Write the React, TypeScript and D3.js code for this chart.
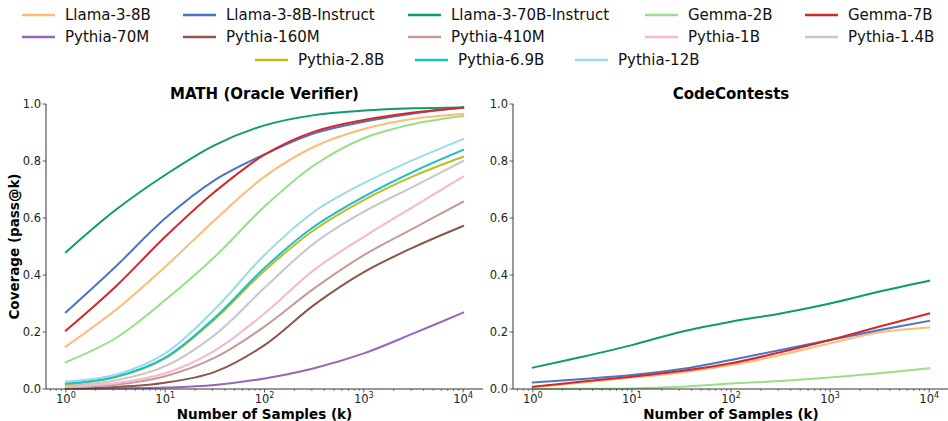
import React, { useEffect, useRef } from "react";
import * as d3 from "d3";

const sampleK = [1, 3.16, 10, 31.6, 100, 316, 1000, 3162, 10000];

const modelNames = [
  "Llama-3-8B",
  "Llama-3-8B-Instruct",
  "Llama-3-70B-Instruct",
  "Gemma-2B",
  "Gemma-7B",
  "Pythia-70M",
  "Pythia-160M",
  "Pythia-410M",
  "Pythia-1B",
  "Pythia-1.4B",
  "Pythia-2.8B",
  "Pythia-6.9B",
  "Pythia-12B",
];

const modelColors = [
  "#ffbb78",
  "#4a74c9",
  "#0f9b6e",
  "#98df8a",
  "#d62728",
  "#9467bd",
  "#8c564b",
  "#c49c94",
  "#f7b6d2",
  "#c7c7c7",
  "#bcbd22",
  "#17becf",
  "#9edae5",
];

// MATH (Oracle Verifier) coverage
const mathLlama8B = [0.149, 0.277, 0.429, 0.593, 0.745, 0.85, 0.912, 0.948, 0.965];
const mathLlama8BInstruct = [0.269, 0.429, 0.599, 0.733, 0.823, 0.897, 0.938, 0.967, 0.988];
const mathLlama70BInstruct = [0.48, 0.628, 0.751, 0.856, 0.925, 0.961, 0.977, 0.985, 0.988];
const mathGemma2B = [0.094, 0.178, 0.312, 0.464, 0.64, 0.785, 0.88, 0.93, 0.958];
const mathGemma7B = [0.205, 0.359, 0.534, 0.692, 0.822, 0.903, 0.944, 0.97, 0.988];
const mathPythia70M = [0.0, 0.002, 0.005, 0.014, 0.037, 0.073, 0.125, 0.195, 0.268];
const mathPythia160M = [0.002, 0.007, 0.022, 0.06, 0.154, 0.295, 0.41, 0.497, 0.572];
const mathPythia410M = [0.006, 0.015, 0.045, 0.11, 0.219, 0.353, 0.47, 0.564, 0.657];
const mathPythia1B = [0.008, 0.02, 0.055, 0.135, 0.265, 0.418, 0.534, 0.64, 0.745];
const mathPythia1_4B = [0.012, 0.03, 0.08, 0.19, 0.355, 0.511, 0.622, 0.71, 0.8];
const mathPythia2_8B = [0.017, 0.041, 0.107, 0.245, 0.415, 0.558, 0.663, 0.747, 0.815];
const mathPythia6_9B = [0.019, 0.043, 0.11, 0.25, 0.425, 0.57, 0.675, 0.763, 0.839];
const mathPythia12B = [0.026, 0.05, 0.125, 0.28, 0.47, 0.622, 0.722, 0.804, 0.877];

// CodeContests coverage (only five models)
const codeLlama8B = [0.006, 0.023, 0.04, 0.058, 0.084, 0.119, 0.16, 0.199, 0.216];
const codeLlama8BInstruct = [0.023, 0.035, 0.049, 0.07, 0.102, 0.137, 0.172, 0.207, 0.239];
const codeLlama70BInstruct = [0.075, 0.113, 0.154, 0.201, 0.236, 0.265, 0.3, 0.342, 0.38];
const codeGemma2B = [0.0, 0.001, 0.002, 0.008, 0.019, 0.028, 0.04, 0.055, 0.073];
const codeGemma7B = [0.008, 0.026, 0.043, 0.063, 0.09, 0.129, 0.172, 0.219, 0.265];

const yTicks = [0, 0.2, 0.4, 0.6, 0.8, 1.0];
const xTicks = [1, 10, 100, 1000, 10000];

const mathSeries = [
  mathLlama8B,
  mathLlama8BInstruct,
  mathLlama70BInstruct,
  mathGemma2B,
  mathGemma7B,
  mathPythia70M,
  mathPythia160M,
  mathPythia410M,
  mathPythia1B,
  mathPythia1_4B,
  mathPythia2_8B,
  mathPythia6_9B,
  mathPythia12B,
];
const codeSeries = [codeLlama8B, codeLlama8BInstruct, codeLlama70BInstruct, codeGemma2B, codeGemma7B];

const W = 948;
const H = 421;
const FONT = "DejaVu Sans, sans-serif";

function drawPanel(svg, x0, x1, title, series, showYLabel) {
  const top = 104;
  const bottom = 389;
  const x = d3.scaleLog().domain([Math.pow(10, -0.2), Math.pow(10, 4.2)]).range([x0, x1]);
  const y = d3.scaleLinear().domain([0, 1]).range([bottom, top]);

  const g = svg.append("g");

  // curves
  const line = d3
    .line()
    .x((d) => x(d[0]))
    .y((d) => y(d[1]))
    .curve(d3.curveCatmullRom.alpha(0.5));

  series.forEach((vals, i) => {
    g.append("path")
      .datum(sampleK.map((k, j) => [k, vals[j]]))
      .attr("d", line)
      .attr("fill", "none")
      .attr("stroke", modelColors[i])
      .attr("stroke-width", 2)
      .attr("stroke-linecap", "square");
  });

  // spines
  g.append("line")
    .attr("x1", x0).attr("x2", x0).attr("y1", top).attr("y2", bottom)
    .attr("stroke", "#333").attr("stroke-width", 1);
  g.append("line")
    .attr("x1", x0).attr("x2", x1).attr("y1", bottom).attr("y2", bottom)
    .attr("stroke", "#333").attr("stroke-width", 1);

  // y ticks
  yTicks.forEach((t) => {
    g.append("line")
      .attr("x1", x0 - 3.5).attr("x2", x0).attr("y1", y(t)).attr("y2", y(t))
      .attr("stroke", "#333").attr("stroke-width", 0.8);
    g.append("text")
      .attr("x", x0 - 5).attr("y", y(t)).attr("dy", "0.35em")
      .attr("text-anchor", "end")
      .attr("font-family", FONT).attr("font-size", 11.5).attr("fill", "#222")
      .text(t.toFixed(1));
  });

  // x ticks, major and minor
  for (let e = -1; e <= 4; e++) {
    for (let m = 1; m <= 9; m++) {
      const v = m * Math.pow(10, e);
      const px = x(v);
      if (px < x0 || px > x1) continue;
      const major = m === 1;
      g.append("line")
        .attr("x1", px).attr("x2", px).attr("y1", bottom).attr("y2", bottom + (major ? 3.5 : 2))
        .attr("stroke", "#333").attr("stroke-width", major ? 0.8 : 0.6);
    }
  }
  xTicks.forEach((t) => {
    const txt = g.append("text")
      .attr("x", x(t)).attr("y", bottom + 14)
      .attr("text-anchor", "middle")
      .attr("font-family", FONT).attr("font-size", 11.5).attr("fill", "#222");
    txt.append("tspan").text("10");
    txt.append("tspan").attr("font-size", 8).attr("dy", -5.5).text(String(Math.round(Math.log10(t))));
  });

  // title and axis labels
  g.append("text")
    .attr("x", (x0 + x1) / 2).attr("y", 99)
    .attr("text-anchor", "middle")
    .attr("font-family", FONT).attr("font-weight", "bold").attr("font-size", 15)
    .text(title);
  g.append("text")
    .attr("x", (x0 + x1) / 2).attr("y", 419)
    .attr("text-anchor", "middle")
    .attr("font-family", FONT).attr("font-weight", "bold").attr("font-size", 13.5)
    .text("Number of Samples (k)");
  if (showYLabel) {
    g.append("text")
      .attr("transform", `translate(19, ${(top + bottom) / 2}) rotate(-90)`)
      .attr("text-anchor", "middle")
      .attr("font-family", FONT).attr("font-weight", "bold").attr("font-size", 13.5)
      .text("Coverage (pass@k)");
  }
}

function drawLegend(svg) {
  const rows = [
    { y: 15, items: [0, 1, 2, 3, 4], xs: [22, 183, 408, 645, 805] },
    { y: 37, items: [5, 6, 7, 8, 9], xs: [22, 183, 408, 645, 805] },
    { y: 60, items: [10, 11, 12], xs: [255, 415, 575] },
  ];
  const g = svg.append("g");
  rows.forEach((row) => {
    row.items.forEach((idx, j) => {
      const lx = row.xs[j];
      g.append("line")
        .attr("x1", lx).attr("x2", lx + 33).attr("y1", row.y).attr("y2", row.y)
        .attr("stroke", modelColors[idx]).attr("stroke-width", 2.5);
      g.append("text")
        .attr("x", lx + 43).attr("y", row.y).attr("dy", "0.36em")
        .attr("font-family", FONT).attr("font-size", 15).attr("fill", "#111")
        .text(modelNames[idx]);
    });
  });
}

export default function App() {
  const ref = useRef(null);

  useEffect(() => {
    const svg = d3.select(ref.current);
    svg.selectAll("*").remove();
    drawLegend(svg);
    drawPanel(svg, 46, 483, "MATH (Oracle Verifier)", mathSeries, true);
    drawPanel(svg, 513, 949, "CodeContests", codeSeries, false);
  }, []);

  return (
    <svg
      ref={ref}
      width={W}
      height={H}
      style={{ position: "absolute", left: 0, top: 0, background: "#fff" }}
    ></svg>
  );
}
